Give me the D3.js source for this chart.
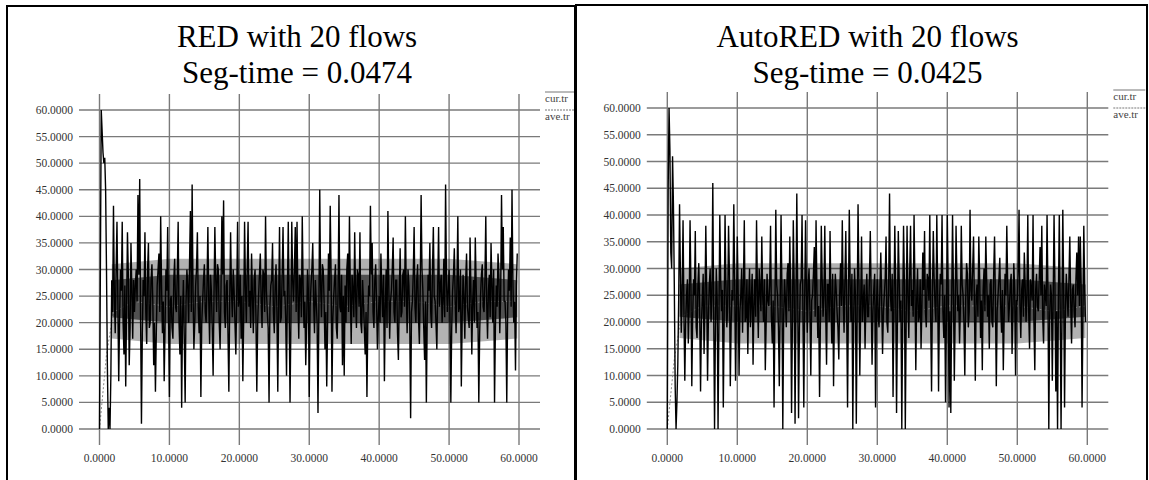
<!DOCTYPE html>
<html>
<head>
<meta charset="utf-8">
<script src="https://cdn.jsdelivr.net/npm/d3@7"></script>
<style>
  body { margin: 0; background: #fff; }
  svg { display: block; font-family: "Liberation Serif", "DejaVu Serif", serif; }
</style>
</head>
<body>
<div id="chart"></div>
<script>
// sample step of the traces, seconds
const step = 0.125;

const titles = [
  ["RED with 20 flows", "Seg-time = 0.0474"],
  ["AutoRED with 20 flows", "Seg-time = 0.0425"]
];
const xTicks = [0, 10, 20, 30, 40, 50, 60];
const yTicks = [0, 5, 10, 15, 20, 25, 30, 35, 40, 45, 50, 55, 60];
const legendKeys = ["cur.tr", "ave.tr"];

// RED, instantaneous queue (cur.tr), one value per 0.125 s, a row per 5 s
const redCur = [
  0, 30, 60, 56, 52, 50, 51, 45, 30, 12, 0, 4, 0, 10, 28, 22, 42, 25, 18, 30, 39, 24, 9, 21, 30, 26, 39, 20, 14, 27, 8, 23, 37, 29, 12, 19, 35, 26, 17, 28,
  22, 27, 30, 24, 44, 29, 47, 21, 1, 18, 28, 25, 37, 22, 16, 30, 35, 19, 20, 28, 31, 24, 12, 20, 7, 18, 27, 30, 33, 22, 40, 27, 18, 24, 9, 19, 30, 26, 38, 21,
  6, 24, 25, 19, 17, 28, 32, 23, 22, 29, 39, 20, 14, 25, 4, 21, 28, 17, 5, 24, 30, 27, 20, 31, 41, 22, 46, 26, 15, 20, 27, 30, 37, 23, 18, 25, 6, 20, 24, 28,
  31, 22, 20, 27, 38, 24, 16, 29, 26, 19, 10, 25, 38, 28, 22, 31, 30, 20, 15, 26, 40, 29, 43, 22, 19, 27, 28, 18, 7, 24, 37, 26, 21, 30, 26, 20, 14, 25, 39, 23,
  24, 29, 17, 25, 9, 21, 39, 27, 20, 30, 39, 23, 26, 19, 33, 25, 18, 28, 30, 21, 7, 20, 25, 29, 33, 24, 19, 30, 29, 22, 40, 26, 22, 19, 5, 23, 27, 28, 35, 22,
  18, 27, 31, 22, 7, 24, 38, 20, 21, 29, 38, 25, 26, 21, 10, 26, 39, 23, 5, 20, 39, 28, 24, 30, 38, 22, 39, 25, 17, 29, 28, 21, 40, 27, 19, 24, 12, 20, 30, 26,
  6, 23, 27, 30, 35, 24, 18, 28, 24, 20, 3, 22, 45, 27, 21, 31, 30, 24, 15, 22, 8, 20, 33, 26, 42, 29, 7, 21, 25, 28, 31, 19, 17, 26, 44, 23, 22, 29, 12, 25,
  10, 27, 20, 30, 33, 22, 40, 26, 16, 29, 26, 21, 37, 25, 19, 30, 29, 23, 37, 20, 18, 28, 24, 19, 14, 22, 6, 20, 27, 25, 42, 29, 35, 22, 19, 28, 31, 24, 15, 21,
  25, 20, 33, 26, 21, 29, 9, 23, 30, 19, 41, 27, 17, 24, 26, 30, 36, 22, 20, 28, 28, 18, 13, 25, 34, 21, 22, 29, 30, 23, 40, 26, 18, 30, 27, 20, 2, 22, 24, 29,
  38, 23, 20, 28, 31, 21, 16, 27, 44, 30, 26, 19, 13, 24, 5, 21, 29, 26, 35, 22, 19, 30, 38, 25, 24, 20, 15, 27, 38, 23, 27, 29, 20, 24, 32, 21, 46, 28, 22, 26,
  30, 22, 5, 19, 26, 29, 34, 24, 18, 27, 40, 22, 23, 30, 8, 21, 29, 25, 17, 28, 33, 23, 21, 19, 36, 26, 14, 24, 28, 20, 36, 27, 19, 22, 5, 18, 25, 29, 31, 23,
  22, 28, 40, 24, 17, 26, 29, 21, 35, 27, 20, 30, 5, 19, 27, 23, 33, 29, 18, 25, 44, 30, 38, 24, 24, 20, 5, 22, 30, 26, 36, 23, 45, 28, 20, 24, 11, 27, 33
];

// AutoRED, instantaneous queue (cur.tr), one value per 0.125 s, a row per 5 s
const autoCur = [
  0, 45, 60, 52, 33, 30, 51, 42, 27, 8, 0, 5, 12, 24, 42, 29, 18, 26, 39, 22, 9, 20, 25, 28, 16, 23, 39, 27, 8, 21, 28, 25, 37, 19, 17, 27, 31, 22, 7, 20,
  24, 29, 14, 23, 38, 26, 9, 21, 27, 30, 20, 25, 46, 22, 0, 19, 30, 24, 0, 20, 40, 28, 22, 26, 4, 21, 40, 27, 19, 23, 38, 29, 8, 20, 26, 24, 42, 28, 9, 22,
  36, 25, 10, 22, 25, 30, 18, 27, 39, 20, 21, 28, 14, 24, 30, 19, 24, 29, 12, 23, 28, 21, 39, 26, 17, 30, 26, 22, 36, 25, 20, 28, 11, 20, 29, 24, 23, 27, 38, 21,
  16, 24, 4, 22, 41, 27, 25, 19, 8, 23, 40, 26, 0, 21, 28, 24, 19, 29, 31, 22, 36, 25, 3, 20, 39, 27, 1, 23, 44, 26, 2, 19, 27, 28, 40, 22, 4, 24, 39, 26,
  18, 27, 30, 22, 10, 24, 25, 29, 34, 21, 39, 26, 17, 23, 6, 20, 38, 28, 21, 25, 38, 22, 12, 27, 27, 20, 37, 24, 16, 29, 8, 22, 29, 26, 22, 19, 13, 25, 31, 23,
  39, 25, 18, 28, 37, 22, 4, 24, 41, 27, 20, 29, 0, 21, 30, 25, 1, 22, 42, 28, 10, 23, 36, 20, 24, 27, 15, 24, 29, 21, 21, 28, 37, 25, 12, 22, 26, 29, 4, 23,
  28, 21, 19, 26, 33, 24, 14, 22, 25, 28, 36, 20, 18, 27, 44, 25, 22, 29, 6, 23, 38, 26, 3, 21, 37, 28, 20, 24, 0, 22, 38, 27, 0, 20, 38, 25, 17, 29, 38, 23,
  26, 21, 40, 27, 11, 24, 30, 20, 21, 28, 15, 23, 33, 26, 37, 22, 19, 29, 28, 24, 40, 21, 7, 25, 37, 28, 23, 20, 40, 26, 7, 23, 29, 27, 40, 22, 17, 25, 5, 21,
  40, 27, 4, 22, 3, 24, 40, 26, 9, 21, 38, 28, 22, 25, 16, 23, 38, 27, 25, 20, 10, 24, 31, 29, 19, 22, 41, 26, 24, 30, 36, 23, 9, 25, 27, 21, 36, 28, 17, 24,
  11, 26, 30, 22, 36, 28, 21, 25, 15, 27, 28, 20, 19, 29, 36, 24, 8, 22, 25, 28, 32, 23, 18, 26, 11, 21, 29, 25, 38, 27, 20, 23, 27, 29, 14, 22, 31, 26, 10, 24,
  24, 29, 41, 23, 17, 26, 28, 21, 33, 27, 20, 25, 40, 22, 15, 28, 26, 24, 40, 20, 11, 26, 29, 23, 22, 28, 34, 25, 38, 21, 16, 27, 25, 23, 40, 26, 0, 21, 27, 25,
  9, 24, 40, 27, 7, 22, 0, 25, 40, 23, 0, 21, 41, 26, 4, 22, 29, 25, 21, 28, 36, 24, 16, 26, 27, 22, 19, 28, 33, 25, 36, 23, 36, 27, 4, 21, 38, 26, 20
];

// dense core of the trace, inner (solid) and outer (half-filled) limits
const bandTimes = [1.75, 10, 20, 30, 40, 50, 59.75];
const redLo = [21, 20, 20, 20, 20, 20, 21];
const redHi = [28, 29, 29, 29, 29, 29, 28];
const redOuterLo = [17, 16, 16, 16, 16, 16, 17];
const redOuterHi = [31, 32, 32, 32, 32, 32, 31];
const autoLo = [21, 20, 20, 20, 20, 20, 21];
const autoHi = [27, 28, 28, 28, 28, 28, 27];
const autoOuterLo = [17, 16, 16, 16, 16, 16, 17];
const autoOuterHi = [30, 31, 31, 31, 31, 31, 30];

// average queue (ave.tr)
const aveTimes = [0, 1, 2, 5, 10, 15, 20, 25, 30, 35, 40, 45, 50, 55, 59.75];
const redAve = [0, 14, 22, 24, 23, 24, 24, 23, 24, 23, 24, 24, 23, 24, 24];
const autoAve = [0, 13, 21, 23, 23, 23, 22, 23, 23, 22, 23, 23, 23, 22, 23];

const width = 1149, height = 480;
const svg = d3.select("#chart").append("svg")
  .attr("width", width)
  .attr("height", height);

const panels = [
  { left: 7, right: 575, top: 6, x0: 99.5, x1: 519, yTop: 110, yBot: 429,
    cur: redCur, ave: redAve, lo: redLo, hi: redHi, olo: redOuterLo, ohi: redOuterHi, title: titles[0] },
  { left: 576, right: 1147, top: 5, x0: 667.3, x1: 1087.3, yTop: 108, yBot: 429,
    cur: autoCur, ave: autoAve, lo: autoLo, hi: autoHi, olo: autoOuterLo, ohi: autoOuterHi, title: titles[1] }
];

panels.forEach((p, pi) => {
  const g = svg.append("g");
  const clipId = "clip" + pi;
  svg.append("clipPath").attr("id", clipId)
    .append("rect")
    .attr("x", p.left).attr("y", p.top)
    .attr("width", p.right - p.left).attr("height", height);

  const x = d3.scaleLinear().domain([0, 60]).range([p.x0, p.x1]);
  const y = d3.scaleLinear().domain([0, 60]).range([p.yBot, p.yTop]);

  const inner = g.append("g").attr("clip-path", "url(#" + clipId + ")");

  // horizontal grid
  inner.append("g")
    .selectAll("line")
    .data(yTicks)
    .enter().append("line")
    .attr("x1", p.x0 - 20.5)
    .attr("x2", p.x1 + 21)
    .attr("y1", d => y(d))
    .attr("y2", d => y(d))
    .attr("stroke", "#7a7a7a")
    .attr("stroke-width", 1.4);

  // vertical grid
  inner.append("g")
    .selectAll("line")
    .data(xTicks)
    .enter().append("line")
    .attr("x1", d => x(d))
    .attr("x2", d => x(d))
    .attr("y1", p.yTop - 16)
    .attr("y2", p.yBot + 16)
    .attr("stroke", "#7a7a7a")
    .attr("stroke-width", 1.4);

  // y labels
  g.append("g")
    .selectAll("text")
    .data(yTicks)
    .enter().append("text")
    .attr("x", p.x0 - 26.5)
    .attr("y", d => y(d) + 4)
    .attr("text-anchor", "end")
    .attr("font-size", 11.5)
    .attr("fill", "#333")
    .text(d => d.toFixed(4));

  // x labels
  g.append("g")
    .selectAll("text")
    .data(xTicks)
    .enter().append("text")
    .attr("x", d => x(d))
    .attr("y", p.yBot + 33)
    .attr("text-anchor", "middle")
    .attr("font-size", 11.5)
    .attr("fill", "#333")
    .text(d => d.toFixed(4));

  // dense core of the queue trace
  const band = d3.area()
    .x(d => x(d[0])).y0(d => y(d[1])).y1(d => y(d[2]));
  inner.append("path")
    .datum(bandTimes.map((t, i) => [t, p.olo[i], p.ohi[i]]))
    .attr("fill", "#000")
    .attr("fill-opacity", 0.3)
    .attr("d", band);
  inner.append("path")
    .datum(bandTimes.map((t, i) => [t, p.lo[i], p.hi[i]]))
    .attr("fill", "#000")
    .attr("fill-opacity", 0.55)
    .attr("d", band);

  // average queue
  inner.append("path")
    .datum(aveTimes.map((t, i) => [t, p.ave[i]]))
    .attr("fill", "none")
    .attr("stroke", "#888")
    .attr("stroke-width", 1)
    .attr("stroke-dasharray", "2,2")
    .attr("d", d3.line().x(d => x(d[0])).y(d => y(d[1])));

  // instantaneous queue
  inner.append("path")
    .datum(p.cur.map((v, i) => [i * step, v]))
    .attr("fill", "none")
    .attr("stroke", "#000")
    .attr("stroke-width", 1.4)
    .attr("d", d3.line().x(d => x(d[0])).y(d => y(d[1])));

  // legend
  const lx = p.x1 + 26;
  const leg = inner.append("g");
  legendKeys.forEach((k, i) => {
    const ly = p.yTop - 18 + i * 18;
    leg.append("line")
      .attr("x1", lx).attr("x2", lx + 32)
      .attr("y1", ly).attr("y2", ly)
      .attr("stroke", "#777")
      .attr("stroke-width", 1)
      .attr("stroke-dasharray", i === 0 ? null : "2,1");
    leg.append("text")
      .attr("x", lx)
      .attr("y", ly + 9.5)
      .attr("font-size", 11)
      .attr("fill", "#444")
      .text(k);
  });

  // titles
  p.title.forEach((t, i) => {
    g.append("text")
      .attr("x", (p.left + p.right) / 2 + 6)
      .attr("y", 47 + i * 36)
      .attr("text-anchor", "middle")
      .attr("font-size", 31)
      .attr("fill", "#000")
      .text(t);
  });

  // frame
  g.append("path")
    .attr("d", "M" + p.left + "," + (height + 5) + "V" + p.top + "H" + p.right + "V" + (height + 5))
    .attr("fill", "none")
    .attr("stroke", "#000")
    .attr("stroke-width", 2);
});
</script>
</body>
</html>
